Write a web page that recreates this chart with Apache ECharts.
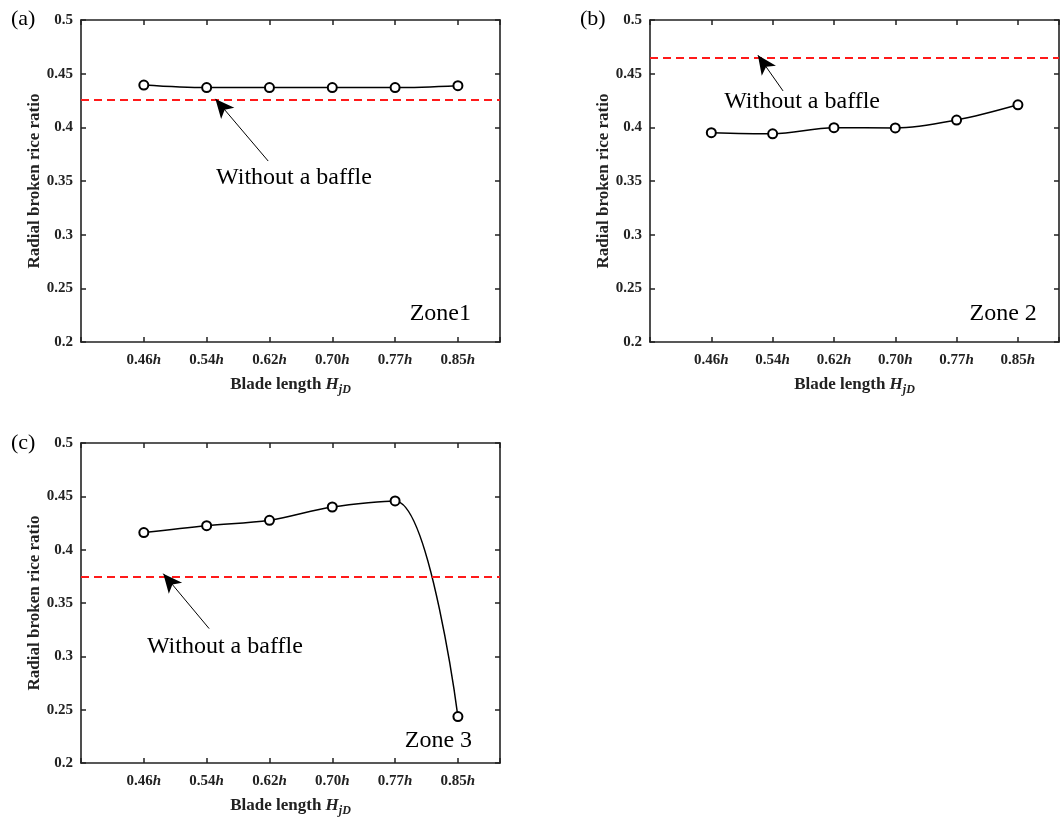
<!DOCTYPE html>
<html>
<head>
<meta charset="utf-8">
<script src="https://cdn.jsdelivr.net/npm/echarts@6/dist/echarts.min.js"></script>
<style>
  html, body { margin: 0; background: #fff; }
  #chart { width: 1062px; height: 818px; }
</style>
</head>
<body>
<div id="chart"></div>
<script>
// blade length categories (multiples of h)
const categories = ['0.46', '0.54', '0.62', '0.70', '0.77', '0.85'];
// radial broken rice ratio per zone
const zone1 = [0.4394, 0.437, 0.437, 0.437, 0.437, 0.4388];
const zone2 = [0.395, 0.394, 0.3997, 0.3994, 0.4068, 0.421];
const zone3 = [0.416, 0.4225, 0.4275, 0.440, 0.4457, 0.2435];
// "without a baffle" reference levels for zones 1..3
const baseline = [0.426, 0.465, 0.375];
const zoneNames = ['Zone1', 'Zone 2', 'Zone 3'];
const panelTags = ['(a)', '(b)', '(c)'];

const font = "'Liberation Serif', 'Times New Roman', serif";
const ink = '#222';

const grids = [
  { left: 81, top: 20, width: 419, height: 322 },
  { left: 650, top: 20, width: 419, height: 322 },
  { left: 81, top: 443, width: 419, height: 324 }
];

// annotation anchors in data space: arrow tail, arrow tip, text centre, zone label centre
const notes = [
  { tail: [2.98, 0.3686], tip: [2.14, 0.4265], text: [3.39, 0.3528], zone: [5.72, 0.226] },
  { tail: [2.17, 0.4339], tip: [1.76, 0.4672], text: [2.48, 0.4236], zone: [5.76, 0.226] },
  { tail: [2.04, 0.326], tip: [1.31, 0.3775], text: [2.29, 0.309], zone: [5.69, 0.2213] }
];

const series = [zone1, zone2, zone3];

const boldText = { fontFamily: font, fontWeight: 'bold', fontSize: 15, color: ink };
const italicBold = Object.assign({}, boldText, { fontStyle: 'italic' });
const nameText = Object.assign({}, boldText, { fontSize: 17 });
const nameItalic = Object.assign({}, nameText, { fontStyle: 'italic' });

const xAxes = [];
const yAxes = [];
const lines = [];

grids.forEach((g, i) => {
  const boxLine = { show: true, onZero: false, lineStyle: { color: ink, width: 1.6 } };
  const tick = { show: true, inside: true, length: 5, lineStyle: { color: ink, width: 1.5 } };
  xAxes.push({
    gridIndex: i, type: 'value', position: 'bottom', min: 0, max: 6.67, interval: 1,
    axisLine: boxLine, axisTick: tick, splitLine: { show: false },
    axisLabel: {
      margin: 11,
      formatter: v => {
        const k = Math.round(v);
        if (Math.abs(v - k) > 1e-6 || k < 1 || k > categories.length) return '';
        return '{n|' + categories[k - 1] + '}{i|h}';
      },
      rich: { n: boldText, i: italicBold }
    },
    name: '{n|Blade length }{i|H}{s|jD}',
    nameLocation: 'middle',
    nameGap: 32,
    nameTextStyle: {
      rich: {
        n: nameText,
        i: nameItalic,
        s: Object.assign({}, nameItalic, { fontSize: 12, padding: [10, 0, 0, 0] })
      }
    }
  });
  xAxes.push({
    gridIndex: i, type: 'value', position: 'top', min: 0, max: 6.67, interval: 1,
    axisLine: boxLine, axisTick: tick, splitLine: { show: false }, axisLabel: { show: false }
  });
  yAxes.push({
    gridIndex: i, type: 'value', position: 'left', min: 0.2, max: 0.5, interval: 0.05,
    axisLine: boxLine, axisTick: tick, splitLine: { show: false },
    axisLabel: Object.assign({ margin: 8, formatter: v => String(+v.toFixed(2)) }, boldText),
    name: 'Radial broken rice ratio',
    nameLocation: 'middle',
    nameGap: 36,
    nameTextStyle: nameText
  });
  yAxes.push({
    gridIndex: i, type: 'value', position: 'right', min: 0.2, max: 0.5, interval: 0.05,
    axisLine: boxLine, axisTick: tick, splitLine: { show: false }, axisLabel: { show: false }
  });

  const n = notes[i];
  lines.push({
    type: 'line',
    xAxisIndex: 2 * i,
    yAxisIndex: 2 * i,
    data: series[i].map((v, k) => [k + 1, v]),
    smooth: 0.35,
    symbol: 'emptyCircle',
    symbolSize: 9,
    lineStyle: { color: '#000', width: 1.5 },
    itemStyle: { color: '#000', borderColor: '#000', borderWidth: 1.6 },
    z: 3,
    markLine: {
      silent: true,
      animation: false,
      precision: 4,
      symbol: ['none', 'none'],
      label: { show: false },
      data: [
        { yAxis: baseline[i], lineStyle: { color: '#ff1a1a', width: 1.8, type: [8, 5] } },
        [
          { coord: n.tail, symbol: 'none', lineStyle: { color: '#000', width: 1, type: 'solid' } },
          { coord: n.tip, symbol: 'arrow', symbolSize: [13, 19] }
        ]
      ]
    },
    markPoint: {
      silent: true,
      animation: false,
      symbol: 'circle',
      symbolSize: 0,
      label: { show: true, position: 'inside', fontFamily: font, fontSize: 24, color: '#000' },
      data: [
        { coord: n.text, value: 'Without a baffle', label: { formatter: 'Without a baffle' } },
        { coord: n.zone, value: zoneNames[i], label: { formatter: zoneNames[i] } }
      ]
    }
  });
});

const tagPos = [[11, 8], [580, 8], [11, 432]];

const option = {
  backgroundColor: '#fff',
  animation: false,
  grid: grids,
  xAxis: xAxes,
  yAxis: yAxes,
  series: lines,
  graphic: panelTags.map((t, i) => ({
    type: 'text',
    left: tagPos[i][0],
    top: tagPos[i][1],
    style: { text: t, fontFamily: font, fontSize: 22, fill: '#000' }
  }))
};

const chart = echarts.init(document.getElementById('chart'));
chart.setOption(option);
</script>
</body>
</html>
